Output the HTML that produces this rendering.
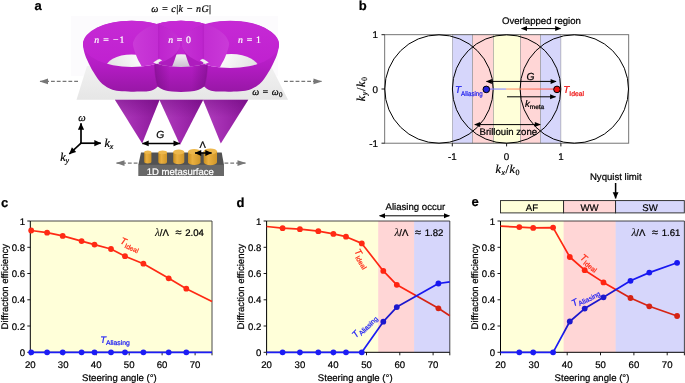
<!DOCTYPE html>
<html><head><meta charset="utf-8"><title>figure</title>
<style>html,body{margin:0;padding:0;background:#fff;overflow:hidden}svg{display:block}text{font-family:"Liberation Sans",sans-serif;fill:#000;stroke:#000;stroke-width:0.22px;text-rendering:geometricPrecision}.m{font-family:"Liberation Serif",serif;font-style:italic}.mr{font-family:"Liberation Serif",serif;font-style:normal}</style></head><body>
<svg width="685" height="383" viewBox="0 0 685 383" style="will-change:opacity;transform:translateZ(0)">
<defs>
<marker id="ah" viewBox="0 0 10 10" refX="9" refY="5" markerWidth="7" markerHeight="6" orient="auto-start-reverse" markerUnits="userSpaceOnUse"><path d="M0,0.8 L10,5 L0,9.2 z" fill="#000"/></marker>
<marker id="ahb" viewBox="0 0 10 10" refX="9.5" refY="5" markerWidth="8" markerHeight="6.6" orient="auto-start-reverse" markerUnits="userSpaceOnUse"><path d="M0,0.6 L10,5 L0,9.4 z" fill="#000"/></marker>
<marker id="aht" viewBox="0 0 10 10" refX="9.5" refY="5" markerWidth="8" markerHeight="6.8" orient="auto-start-reverse" markerUnits="userSpaceOnUse"><path d="M0,0.4 L10,5 L0,9.6 z" fill="#000"/></marker>
<marker id="ag" viewBox="0 0 10 10" refX="9" refY="5" markerWidth="9" markerHeight="7" orient="auto-start-reverse" markerUnits="userSpaceOnUse"><path d="M0,0.5 L10,5 L0,9.5 z" fill="#777"/></marker>
<linearGradient id="gl" x1="0" y1="0" x2="1" y2="0"><stop offset="0" stop-color="#7a7aff"/><stop offset="0.28" stop-color="#8c8cff"/><stop offset="0.29" stop-color="#ffa070"/><stop offset="1" stop-color="#ff5050"/></linearGradient>
<linearGradient id="bowl" x1="0" y1="0" x2="0" y2="1"><stop offset="0" stop-color="#c42fd0"/><stop offset="0.5" stop-color="#b622c4"/><stop offset="1" stop-color="#9a1aa8"/></linearGradient>
<linearGradient id="bowlin" x1="0" y1="0" x2="0" y2="1"><stop offset="0" stop-color="#c630d2"/><stop offset="1" stop-color="#ac20ba"/></linearGradient>
<linearGradient id="cone" x1="0" y1="0" x2="1" y2="0"><stop offset="0" stop-color="#b040bd"/><stop offset="0.45" stop-color="#a22cb0"/><stop offset="1" stop-color="#8a1898"/></linearGradient>
<linearGradient id="coneshade" x1="0" y1="0" x2="0" y2="1"><stop offset="0" stop-color="#600070" stop-opacity="0.35"/><stop offset="0.4" stop-color="#600070" stop-opacity="0"/></linearGradient>
<linearGradient id="plane" x1="0" y1="0" x2="0" y2="1"><stop offset="0" stop-color="#f2f2f2"/><stop offset="1" stop-color="#e6e6e6"/></linearGradient>
<linearGradient id="gold" x1="0" y1="0" x2="1" y2="0"><stop offset="0" stop-color="#c98f20"/><stop offset="0.35" stop-color="#eab040"/><stop offset="1" stop-color="#d09628"/></linearGradient>
</defs>
<text x="34.5" y="9.6" font-size="13" font-weight="bold">a</text>
<text x="358.8" y="9.9" font-size="13" font-weight="bold">b</text>
<text x="1" y="207" font-size="13" font-weight="bold">c</text>
<text x="236.6" y="207" font-size="13" font-weight="bold">d</text>
<text x="471.5" y="206.4" font-size="13" font-weight="bold">e</text>
<g id="pa">
<rect x="71" y="16" width="207" height="60" fill="#fcfbfd"/>
<path d="M87,66 L270,64 L288,99.8 L76.5,99.8 Z" fill="url(#plane)"/>
<path d="M114.9,99.8 L159.6,99.8 L142.2,143.5 Z" fill="url(#cone)"/>
<path d="M114.9,99.8 L159.6,99.8 L142.2,143.5 Z" fill="url(#coneshade)"/>
<path d="M159.4,99.8 L203.2,99.8 L180,145 Z" fill="url(#cone)"/>
<path d="M159.4,99.8 L203.2,99.8 L180,145 Z" fill="url(#coneshade)"/>
<path d="M203,99.8 L248.3,99.8 L220.8,143.5 Z" fill="url(#cone)"/>
<path d="M203,99.8 L248.3,99.8 L220.8,143.5 Z" fill="url(#coneshade)"/>
</g>
<g id="bowls">
<defs>
<linearGradient id="fw" gradientUnits="userSpaceOnUse" x1="0" y1="44" x2="0" y2="92"><stop offset="0" stop-color="#c026d0"/><stop offset="0.45" stop-color="#b41cc4"/><stop offset="1" stop-color="#9817a6"/></linearGradient>
<linearGradient id="inn" gradientUnits="userSpaceOnUse" x1="0" y1="20" x2="0" y2="68"><stop offset="0" stop-color="#c62ad5"/><stop offset="1" stop-color="#bf20cf"/></linearGradient>
<linearGradient id="lensL" gradientUnits="userSpaceOnUse" x1="133" y1="0" x2="159" y2="0"><stop offset="0" stop-color="#ca3ad8"/><stop offset="1" stop-color="#c22cd2"/></linearGradient>
<linearGradient id="lensR" gradientUnits="userSpaceOnUse" x1="159" y1="0" x2="181" y2="0"><stop offset="0" stop-color="#be24ce"/><stop offset="1" stop-color="#c632d5"/></linearGradient>
<linearGradient id="mshade" gradientUnits="userSpaceOnUse" x1="154" y1="0" x2="208" y2="0"><stop offset="0" stop-color="#50005c" stop-opacity="0.35"/><stop offset="0.3" stop-color="#50005c" stop-opacity="0"/><stop offset="0.7" stop-color="#50005c" stop-opacity="0"/><stop offset="1" stop-color="#50005c" stop-opacity="0.35"/></linearGradient>
<linearGradient id="hole" gradientUnits="userSpaceOnUse" x1="108" y1="68" x2="135" y2="52"><stop offset="0" stop-color="#e2e2e2"/><stop offset="1" stop-color="#fafafa"/></linearGradient>
<linearGradient id="hole2" gradientUnits="userSpaceOnUse" x1="0" y1="54" x2="0" y2="67"><stop offset="0" stop-color="#f2f0f3"/><stop offset="1" stop-color="#cdc2d2"/></linearGradient>
<path id="LH" d="M83.0,45.3 C82.8,42.7 83.4,41.6 84.2,39.8 C85.0,38.0 86.3,36.3 87.8,34.6 C89.4,33.0 91.4,31.4 93.6,30.0 C95.9,28.5 98.5,27.2 101.3,26.1 C104.2,24.9 107.3,23.9 110.6,23.1 C113.8,22.3 117.3,21.7 120.9,21.3 C124.4,20.9 128.1,20.7 131.7,20.7 C135.3,20.7 139.0,20.9 142.5,21.3 C146.1,21.7 149.6,22.3 152.8,23.1 C156.1,23.9 159.2,24.9 162.1,26.1 C164.9,27.2 167.5,28.5 169.8,30.0 C172.0,31.4 174.0,33.0 175.6,34.6 C177.1,36.3 178.4,38.0 179.2,39.8 C180.0,41.6 180.9,42.8 180.4,45.3 C179.9,47.8 177.7,51.5 176.3,55.0 C175.0,58.5 174.0,62.3 172.3,66.0 C170.6,69.7 167.8,74.2 166.0,77.0 C164.2,79.8 162.8,81.0 161.5,82.5 C160.2,84.0 159.3,85.1 158.0,86.3 C156.7,87.5 155.2,89.0 153.5,89.8 C151.8,90.6 150.2,90.9 148.0,91.2 C145.8,91.5 142.8,91.5 140.0,91.6 C137.2,91.7 134.5,91.8 131.0,91.7 C127.5,91.6 122.4,91.5 119.0,91.0 C115.6,90.5 113.1,89.9 110.6,88.9 C108.1,87.9 105.8,86.5 103.8,85.0 C101.8,83.5 100.4,82.0 98.7,79.9 C97.0,77.8 95.1,74.8 93.6,72.3 C92.0,69.8 90.8,67.5 89.4,64.7 C88.0,61.9 86.3,58.5 85.2,55.3 C84.1,52.1 83.2,47.9 83.0,45.3 Z"/>
<path id="MH" d="M133.0,45.3 C132.6,42.5 133.4,41.6 134.2,39.8 C135.0,38.0 136.2,36.3 137.8,34.6 C139.3,33.0 141.3,31.4 143.5,30.0 C145.7,28.5 148.3,27.2 151.1,26.1 C153.9,24.9 157.0,23.9 160.2,23.1 C163.4,22.3 166.8,21.7 170.3,21.3 C173.8,20.9 177.4,20.7 181.0,20.7 C184.6,20.7 188.2,20.9 191.7,21.3 C195.2,21.7 198.6,22.3 201.8,23.1 C205.0,23.9 208.1,24.9 210.9,26.1 C213.7,27.2 216.3,28.5 218.5,30.0 C220.7,31.4 222.7,33.0 224.2,34.6 C225.8,36.3 227.0,38.0 227.8,39.8 C228.6,41.6 229.4,42.5 229.0,45.3 C228.6,48.1 226.6,53.5 225.3,56.8 C224.0,60.1 222.8,61.8 221.1,65.0 C219.4,68.2 216.8,73.1 215.0,76.0 C213.2,78.9 211.8,80.8 210.0,82.5 C208.2,84.2 206.2,85.2 204.2,86.4 C202.2,87.7 200.4,89.1 198.0,90.0 C195.6,90.9 192.8,91.3 190.0,91.6 C187.2,91.9 184.0,91.9 181.0,91.9 C178.0,91.9 174.8,91.9 172.0,91.6 C169.2,91.3 166.4,90.9 164.0,90.0 C161.6,89.1 159.8,87.7 157.8,86.4 C155.8,85.2 153.8,84.2 152.0,82.5 C150.2,80.8 148.8,78.9 147.0,76.0 C145.2,73.1 142.6,68.2 140.9,65.0 C139.2,61.8 138.0,60.1 136.7,56.8 C135.4,53.5 133.4,48.1 133.0,45.3 Z"/>
<ellipse id="LEe" cx="131.7" cy="43.8" rx="48.7" ry="23.1"/>
<ellipse id="MEe" cx="181" cy="43.8" rx="48" ry="23.1"/>
<clipPath id="cLE"><use href="#LEe"/></clipPath>
<ellipse id="REe" cx="131.7" cy="44.6" rx="48.7" ry="23.5"/>
<clipPath id="cRE"><use href="#REe"/></clipPath>
<clipPath id="cME"><use href="#MEe"/></clipPath>
<clipPath id="cLH"><use href="#LH"/></clipPath>
<clipPath id="cMH"><use href="#MH"/></clipPath>
<clipPath id="cMid"><path d="M154.6,10 L154.6,64.5 Q155.2,78 157.8,86.5 L157.8,96 L204.2,96 L204.2,86.5 Q206.8,78 207.4,64.5 L207.4,10 Z"/></clipPath>
<clipPath id="cLeftHalf"><rect x="0" y="0" width="158.8" height="120"/></clipPath>
<clipPath id="cRightOf"><rect x="158.8" y="0" width="60" height="120"/></clipPath>
</defs>
<use href="#LH" fill="url(#fw)"/>
<use href="#LH" fill="url(#fw)" transform="translate(362,0) scale(-1,1)"/>
<g clip-path="url(#cMid)">
<use href="#MH" fill="url(#fw)"/>
<g clip-path="url(#cMH)"><rect x="150" y="62" width="62" height="32" fill="url(#mshade)"/></g>
</g>
<g >
<use href="#LEe" fill="url(#inn)"/>
<g clip-path="url(#cLE)"><ellipse cx="131.5" cy="69.4" rx="26.5" ry="15" fill="url(#hole)"/>
<g clip-path="url(#cLeftHalf)"><use href="#MH" fill="url(#lensL)"/></g>
</g>
</g>
<g transform="translate(362,0) scale(-1,1)">
<use href="#REe" fill="url(#inn)"/>
<g clip-path="url(#cRE)"><ellipse cx="130.6" cy="70.4" rx="28.2" ry="16.4" fill="url(#hole)"/>
<g clip-path="url(#cLeftHalf)"><use href="#MH" fill="url(#lensL)"/></g>
</g>
</g>
<g clip-path="url(#cME)">
<g clip-path="url(#cRightOf)"><rect x="158.8" y="0" width="44.4" height="120" fill="url(#inn)"/></g>
<rect x="158.8" y="18" width="44.4" height="52" fill="url(#inn)"/>
<ellipse cx="181" cy="69.2" rx="27" ry="15" fill="url(#hole2)"/>
<g ><g clip-path="url(#cRightOf)">
<use href="#LH" fill="#ae1cbe"/>
<use href="#LEe" fill="url(#lensR)"/>
</g></g>
<g transform="translate(362,0) scale(-1,1)"><g clip-path="url(#cRightOf)">
<use href="#LH" fill="#ae1cbe"/>
<use href="#LEe" fill="url(#lensR)"/>
</g></g>
</g>
<path d="M153.2,62.4 L159,58.8 L162.2,60.3 L156.4,63.8 Z" fill="#f2f2f2"/>
<path d="M208.8,62.4 L203,58.8 L199.8,60.3 L205.6,63.8 Z" fill="#f2f2f2"/>
<path d="M158.8,24 L158.8,60" stroke="#a018b0" stroke-width="0.8" opacity="0.35" fill="none"/>
<path d="M203.2,24 L203.2,60" stroke="#a018b0" stroke-width="0.8" opacity="0.35" fill="none"/>
<path d="M154.6,64.5 Q155.2,78 157.8,86.5" stroke="#8a1496" stroke-width="1.2" opacity="0.5" fill="none"/>
<path d="M207.4,64.5 Q206.8,78 204.2,86.5" stroke="#8a1496" stroke-width="1.2" opacity="0.5" fill="none"/>
</g>
<text x="94.3" y="43.4" font-size="9.8" textLength="30" style="fill:#fff;stroke:#fff" class="mr"><tspan class="m">n</tspan> = −1</text>
<text x="168.2" y="43.2" font-size="9.8" textLength="22.8" style="fill:#fff;stroke:#fff" class="mr"><tspan class="m">n</tspan> = 0</text>
<text x="238" y="43.2" font-size="9.8" textLength="22.8" style="fill:#fff;stroke:#fff" class="mr"><tspan class="m">n</tspan> = 1</text>
<text x="151.2" y="12.4" font-size="10" textLength="59.8" class="m">ω = c<tspan class="mr">|</tspan>k − nG<tspan class="mr">|</tspan></text>
<text x="252.2" y="95.2" font-size="9.8" textLength="30.2" class="m">ω = ω<tspan class="mr" font-size="7" dy="1.8">0</tspan></text>
<g id="meta">
<path d="M141,152.5 L221.7,152.5 L224,165 L138.3,165 Z" fill="#525252"/>
<rect x="138.3" y="164.8" width="85.7" height="11.2" fill="#686868"/>
<text x="180.3" y="175" font-size="9.5" text-anchor="middle" style="fill:#fff;stroke:#fff">1D metasurface</text>
<path d="M144.2,152.184 L144.2,161.816 A3.6000000000000085,1.5840000000000038 0 0 0 151.4,161.816 L151.4,152.184 Z" fill="url(#gold)"/>
<ellipse cx="147.8" cy="152.184" rx="3.6000000000000085" ry="1.5840000000000038" fill="#edb84c"/>
<path d="M158.3,152.314 L158.3,161.88600000000002 A4.349999999999994,1.9139999999999975 0 0 0 167,161.88600000000002 L167,152.314 Z" fill="url(#gold)"/>
<ellipse cx="162.65" cy="152.314" rx="4.349999999999994" ry="1.9139999999999975" fill="#edb84c"/>
<path d="M173.2,152.042 L173.2,161.75799999999998 A5.550000000000011,2.442000000000005 0 0 0 184.3,161.75799999999998 L184.3,152.042 Z" fill="url(#gold)"/>
<ellipse cx="178.75" cy="152.042" rx="5.550000000000011" ry="2.442000000000005" fill="#edb84c"/>
<path d="M188,151.75 L188,162.25 A6.25,2.75 0 0 0 200.5,162.25 L200.5,151.75 Z" fill="url(#gold)"/>
<ellipse cx="194.25" cy="151.75" rx="6.25" ry="2.75" fill="#edb84c"/>
<path d="M203.7,151.32600000000002 L203.7,162.27399999999997 A6.650000000000006,2.9260000000000024 0 0 0 217,162.27399999999997 L217,151.32600000000002 Z" fill="url(#gold)"/>
<ellipse cx="210.35" cy="151.32600000000002" rx="6.650000000000006" ry="2.9260000000000024" fill="#edb84c"/>
</g>
<path d="M142.4,143.4 L179.8,143.4" stroke="#000" stroke-width="1.5" fill="none" marker-start="url(#ahb)" marker-end="url(#ahb)"/>
<path d="M195,153 L211.6,153" stroke="#000" stroke-width="1.5" fill="none" marker-start="url(#ahb)" marker-end="url(#ahb)"/>
<text x="160.2" y="137.9" font-size="10.3" font-style="italic" text-anchor="middle">G</text>
<text x="202.6" y="148" font-size="9.5" text-anchor="middle">Λ</text>
<path d="M78,81.4 L40,81.4" stroke="#777" stroke-width="1.3" stroke-dasharray="3.8,2" fill="none"/>
<path d="M39.5,81.4 L48,78.60000000000001 L48,84.2 Z" fill="#777"/>
<path d="M284,81.4 L321.5,81.4" stroke="#777" stroke-width="1.3" stroke-dasharray="3.8,2" fill="none"/>
<path d="M322.0,81.4 L313.5,78.60000000000001 L313.5,84.2 Z" fill="#777"/>
<path d="M137.5,163.1 L116.5,163.1" stroke="#777" stroke-width="1.3" stroke-dasharray="3.8,2" fill="none"/>
<path d="M116.0,163.1 L124.5,160.29999999999998 L124.5,165.9 Z" fill="#777"/>
<path d="M224.5,163.1 L245.5,163.1" stroke="#777" stroke-width="1.3" stroke-dasharray="3.8,2" fill="none"/>
<path d="M246.0,163.1 L237.5,160.29999999999998 L237.5,165.9 Z" fill="#777"/>
<path d="M81,143.2 L81,123.3" stroke="#000" stroke-width="1.7" fill="none" marker-end="url(#aht)"/>
<path d="M80.2,143.2 L100.8,143.2" stroke="#000" stroke-width="1.7" fill="none" marker-end="url(#aht)"/>
<path d="M81.3,142.9 L69.3,154" stroke="#000" stroke-width="1.7" fill="none" marker-end="url(#aht)"/>
<text x="78.3" y="121" font-size="10.5" class="m">ω</text>
<text x="104.5" y="146.8" font-size="12" class="m">k<tspan font-size="8" dy="2">x</tspan></text>
<text x="60.2" y="160.6" font-size="12" class="m">k<tspan font-size="8" dy="2">y</tspan></text>
<g id="pb">
<rect x="452.3" y="34.7" width="20.4" height="108.5" fill="#d6d6fb" stroke="#8a8a8a" stroke-width="0.5"/>
<rect x="472.7" y="34.7" width="20.6" height="108.5" fill="#ffd6d6" stroke="#8a8a8a" stroke-width="0.5"/>
<rect x="493.3" y="34.7" width="27.1" height="108.5" fill="#ffffd9" stroke="#8a8a8a" stroke-width="0.5"/>
<rect x="520.4" y="34.7" width="20.1" height="108.5" fill="#ffd6d6" stroke="#8a8a8a" stroke-width="0.5"/>
<rect x="540.5" y="34.7" width="20.4" height="108.5" fill="#d6d6fb" stroke="#8a8a8a" stroke-width="0.5"/>
<rect x="384.7" y="34.7" width="244.0" height="108.5" fill="none" stroke="#666" stroke-width="0.9"/>
<circle cx="439.0" cy="89" r="54.2" fill="none" stroke="#000" stroke-width="1"/>
<circle cx="506.6" cy="89" r="54.2" fill="none" stroke="#000" stroke-width="1"/>
<circle cx="574.3" cy="89" r="54.2" fill="none" stroke="#000" stroke-width="1"/>
<path d="M384.7,34.7 h-3.2" stroke="#000" stroke-width="0.9"/>
<text x="378" y="38.2" font-size="9.8" text-anchor="end">1</text>
<path d="M384.7,89 h-3.2" stroke="#000" stroke-width="0.9"/>
<text x="378" y="92.5" font-size="9.8" text-anchor="end">0</text>
<path d="M384.7,143.2 h-3.2" stroke="#000" stroke-width="0.9"/>
<text x="378" y="146.7" font-size="9.8" text-anchor="end">-1</text>
<path d="M452.3,143.2 v3.2" stroke="#000" stroke-width="0.9"/>
<text x="452.3" y="159.5" font-size="9.8" text-anchor="middle">-1</text>
<path d="M506.6,143.2 v3.2" stroke="#000" stroke-width="0.9"/>
<text x="506.6" y="159.5" font-size="9.8" text-anchor="middle">0</text>
<path d="M560.9,143.2 v3.2" stroke="#000" stroke-width="0.9"/>
<text x="560.9" y="159.5" font-size="9.8" text-anchor="middle">1</text>
<rect x="486" y="88.5" width="71" height="1.1" fill="url(#gl)"/>
<circle cx="486.3" cy="89.4" r="3.3" fill="#2222dd" stroke="#000" stroke-width="1"/>
<circle cx="557" cy="89.4" r="3.3" fill="#ee1111" stroke="#000" stroke-width="1"/>
<path d="M486.5,81.4 L556,81.4" stroke="#000" stroke-width="1.0" fill="none" marker-start="url(#ah)" marker-end="url(#ah)"/>
<path d="M507,96.8 L555.5,96.8" stroke="#000" stroke-width="1.0" fill="none" marker-end="url(#ah)"/>
<path d="M474.8,124.6 L540.2,124.6" stroke="#000" stroke-width="1.0" fill="none" marker-start="url(#ah)" marker-end="url(#ah)"/>
<path d="M521.6,28.6 L560.6,28.6" stroke="#000" stroke-width="1.0" fill="none" marker-start="url(#ah)" marker-end="url(#ah)"/>
<text x="530.6" y="80.4" font-size="10.3" font-style="italic" text-anchor="middle">G</text>
<text x="525" y="107" font-size="9.5"><tspan font-style="italic">k</tspan><tspan font-size="6.5" dy="2">meta</tspan></text>
<text x="508.3" y="135.4" font-size="9.6" text-anchor="middle">Brillouin zone</text>
<text x="541.4" y="23.5" font-size="9.6" text-anchor="middle">Overlapped region</text>
<text x="455" y="93.2" font-size="10" style="fill:#2222ee;stroke:#2222ee"><tspan font-style="italic">T</tspan><tspan font-size="6.8" dy="2.3" textLength="21.6" lengthAdjust="spacingAndGlyphs">Aliasing</tspan></text>
<text x="563.2" y="93.2" font-size="10" style="fill:#ee1111;stroke:#ee1111"><tspan font-style="italic">T</tspan><tspan font-size="6.8" dy="2.3">Ideal</tspan></text>
<text x="495.4" y="172.6" font-size="12" textLength="24.2" class="m">k<tspan font-size="8" dy="2">x</tspan><tspan class="mr" dy="-2">/</tspan>k<tspan class="mr" font-size="8" dy="2">0</tspan></text>
<text transform="translate(365.3,101.2) rotate(-90)" font-size="12" textLength="24.2" class="m">k<tspan font-size="8" dy="2">y</tspan><tspan class="mr" dy="-2">/</tspan>k<tspan class="mr" font-size="8" dy="2">0</tspan></text>
</g>
<g id="pc">
<rect x="30.3" y="221.0" width="181.7" height="131.3" fill="#ffffd9"/>
<path d="M30.3,221.0 H212.0 V352.3" stroke="#333" stroke-width="0.9" fill="none"/>
<path d="M30.3,221.0 V352.3 H212.0" stroke="#000" stroke-width="1" fill="none"/>
<path d="M30.3,352.3 h-3" stroke="#000" stroke-width="0.9"/>
<text x="25.0" y="355.8" font-size="9.6" text-anchor="end">0</text>
<path d="M30.3,326.0 h-3" stroke="#000" stroke-width="0.9"/>
<text x="25.0" y="329.5" font-size="9.6" text-anchor="end">0.2</text>
<path d="M30.3,299.8 h-3" stroke="#000" stroke-width="0.9"/>
<text x="25.0" y="303.3" font-size="9.6" text-anchor="end">0.4</text>
<path d="M30.3,273.5 h-3" stroke="#000" stroke-width="0.9"/>
<text x="25.0" y="277.0" font-size="9.6" text-anchor="end">0.6</text>
<path d="M30.3,247.3 h-3" stroke="#000" stroke-width="0.9"/>
<text x="25.0" y="250.8" font-size="9.6" text-anchor="end">0.8</text>
<path d="M30.3,221.0 h-3" stroke="#000" stroke-width="0.9"/>
<text x="25.0" y="224.5" font-size="9.6" text-anchor="end">1</text>
<path d="M30.3,352.3 v3" stroke="#000" stroke-width="0.9"/>
<text x="30.3" y="368.3" font-size="9.6" text-anchor="middle">20</text>
<path d="M63.2,352.3 v3" stroke="#000" stroke-width="0.9"/>
<text x="63.2" y="368.3" font-size="9.6" text-anchor="middle">30</text>
<path d="M96.2,352.3 v3" stroke="#000" stroke-width="0.9"/>
<text x="96.2" y="368.3" font-size="9.6" text-anchor="middle">40</text>
<path d="M129.2,352.3 v3" stroke="#000" stroke-width="0.9"/>
<text x="129.2" y="368.3" font-size="9.6" text-anchor="middle">50</text>
<path d="M162.1,352.3 v3" stroke="#000" stroke-width="0.9"/>
<text x="162.1" y="368.3" font-size="9.6" text-anchor="middle">60</text>
<path d="M195.1,352.3 v3" stroke="#000" stroke-width="0.9"/>
<text x="195.1" y="368.3" font-size="9.6" text-anchor="middle">70</text>
<path d="M212.0,352.3 v3" stroke="#000" stroke-width="0.9"/>
<polyline points="31.2,230.5 47.1,232.7 62.7,235.9 81.6,241.1 94.5,244.6 111,249 125,256.2 143.4,263.7 168.7,278.3 186.3,288.7 212,301.5" fill="none" stroke="#ff2a14" stroke-width="1.7" stroke-linejoin="round"/>
<polyline points="30.3,352.3 31.2,352.3 47.1,352.3 62.7,352.3 81.6,352.3 94.5,352.3 111,352.3 125,352.3 143.4,352.3 168.7,352.3 186.3,352.3 212,352.3" fill="none" stroke="#1c1cf5" stroke-width="1.7" stroke-linejoin="round"/>
<circle cx="31.2" cy="230.5" r="2.9" fill="#ff2a14"/>
<circle cx="47.1" cy="232.7" r="2.9" fill="#ff2a14"/>
<circle cx="62.7" cy="235.9" r="2.9" fill="#ff2a14"/>
<circle cx="81.6" cy="241.1" r="2.9" fill="#ff2a14"/>
<circle cx="94.5" cy="244.6" r="2.9" fill="#ff2a14"/>
<circle cx="111" cy="249" r="2.9" fill="#ff2a14"/>
<circle cx="125" cy="256.2" r="2.9" fill="#ff2a14"/>
<circle cx="143.4" cy="263.7" r="2.9" fill="#ff2a14"/>
<circle cx="168.7" cy="278.3" r="2.9" fill="#ff2a14"/>
<circle cx="186.3" cy="288.7" r="2.9" fill="#ff2a14"/>
<circle cx="31.2" cy="352.3" r="2.9" fill="#1c1cf5"/>
<circle cx="47.1" cy="352.3" r="2.9" fill="#1c1cf5"/>
<circle cx="62.7" cy="352.3" r="2.9" fill="#1c1cf5"/>
<circle cx="81.6" cy="352.3" r="2.9" fill="#1c1cf5"/>
<circle cx="94.5" cy="352.3" r="2.9" fill="#1c1cf5"/>
<circle cx="111" cy="352.3" r="2.9" fill="#1c1cf5"/>
<circle cx="125" cy="352.3" r="2.9" fill="#1c1cf5"/>
<circle cx="143.4" cy="352.3" r="2.9" fill="#1c1cf5"/>
<circle cx="168.7" cy="352.3" r="2.9" fill="#1c1cf5"/>
<circle cx="186.3" cy="352.3" r="2.9" fill="#1c1cf5"/>
<text x="119.4" y="380.6" font-size="9.6" text-anchor="middle">Steering angle (°)</text>
<text transform="translate(7.5,286.65) rotate(-90)" font-size="9.6" text-anchor="middle">Diffraction efficiency</text>
<text y="235.6" font-size="9.6"><tspan x="155" class="m" font-size="11" style="stroke-width:0.05px">λ</tspan>/Λ<tspan x="175.4" font-size="11">≈</tspan><tspan x="185.2">2.04</tspan></text>
<text transform="translate(119.5,243) rotate(24)" font-size="9.5" style="fill:#ff2a14;stroke:#ff2a14"><tspan font-style="italic">T</tspan><tspan font-size="6.8" dy="2.2">Ideal</tspan></text>
<text transform="translate(100.2,342.6) rotate(0)" font-size="9.5" style="fill:#1c1cf5;stroke:#1c1cf5"><tspan font-style="italic">T</tspan><tspan font-size="6.8" dy="2.2">Aliasing</tspan></text>
</g>
<g id="pd">
<rect x="266.6" y="221.0" width="111.6" height="131.3" fill="#ffffd9"/>
<path d="M266.6,221.0 H449.8 V352.3" stroke="#333" stroke-width="0.9" fill="none"/>
<path d="M266.6,221.0 V352.3 H449.8" stroke="#000" stroke-width="1" fill="none"/>
<path d="M266.6,352.3 h-3" stroke="#000" stroke-width="0.9"/>
<text x="261.3" y="355.8" font-size="9.6" text-anchor="end">0</text>
<path d="M266.6,326.0 h-3" stroke="#000" stroke-width="0.9"/>
<text x="261.3" y="329.5" font-size="9.6" text-anchor="end">0.2</text>
<path d="M266.6,299.8 h-3" stroke="#000" stroke-width="0.9"/>
<text x="261.3" y="303.3" font-size="9.6" text-anchor="end">0.4</text>
<path d="M266.6,273.5 h-3" stroke="#000" stroke-width="0.9"/>
<text x="261.3" y="277.0" font-size="9.6" text-anchor="end">0.6</text>
<path d="M266.6,247.3 h-3" stroke="#000" stroke-width="0.9"/>
<text x="261.3" y="250.8" font-size="9.6" text-anchor="end">0.8</text>
<path d="M266.6,221.0 h-3" stroke="#000" stroke-width="0.9"/>
<text x="261.3" y="224.5" font-size="9.6" text-anchor="end">1</text>
<path d="M266.6,352.3 v3" stroke="#000" stroke-width="0.9"/>
<text x="266.6" y="368.3" font-size="9.6" text-anchor="middle">20</text>
<path d="M299.9,352.3 v3" stroke="#000" stroke-width="0.9"/>
<text x="299.9" y="368.3" font-size="9.6" text-anchor="middle">30</text>
<path d="M333.2,352.3 v3" stroke="#000" stroke-width="0.9"/>
<text x="333.2" y="368.3" font-size="9.6" text-anchor="middle">40</text>
<path d="M366.5,352.3 v3" stroke="#000" stroke-width="0.9"/>
<text x="366.5" y="368.3" font-size="9.6" text-anchor="middle">50</text>
<path d="M399.8,352.3 v3" stroke="#000" stroke-width="0.9"/>
<text x="399.8" y="368.3" font-size="9.6" text-anchor="middle">60</text>
<path d="M433.1,352.3 v3" stroke="#000" stroke-width="0.9"/>
<text x="433.1" y="368.3" font-size="9.6" text-anchor="middle">70</text>
<path d="M449.8,352.3 v3" stroke="#000" stroke-width="0.9"/>
<polyline points="266.6,226.5 282.6,228.2 299.9,229.2 318.3,231.2 333.4,233.9 346,236.7 361.8,243.4 383.3,270.9 396.8,284.8 438.4,308.3 449.8,315.8" fill="none" stroke="#ff2a14" stroke-width="1.7" stroke-linejoin="round"/>
<polyline points="266.6,352.3 282.6,352.3 299.9,352.3 318.3,352.3 333.4,352.3 346,352.3 361.8,352.3 383.3,321.7 396.8,307.1 438.4,283.5 449.8,281.8" fill="none" stroke="#1c1cf5" stroke-width="1.7" stroke-linejoin="round"/>
<circle cx="282.6" cy="228.2" r="2.9" fill="#ff2a14"/>
<circle cx="299.9" cy="229.2" r="2.9" fill="#ff2a14"/>
<circle cx="318.3" cy="231.2" r="2.9" fill="#ff2a14"/>
<circle cx="333.4" cy="233.9" r="2.9" fill="#ff2a14"/>
<circle cx="346" cy="236.7" r="2.9" fill="#ff2a14"/>
<circle cx="361.8" cy="243.4" r="2.9" fill="#ff2a14"/>
<circle cx="383.3" cy="270.9" r="2.9" fill="#ff2a14"/>
<circle cx="396.8" cy="284.8" r="2.9" fill="#ff2a14"/>
<circle cx="438.4" cy="308.3" r="2.9" fill="#ff2a14"/>
<circle cx="282.6" cy="352.3" r="2.9" fill="#1c1cf5"/>
<circle cx="299.9" cy="352.3" r="2.9" fill="#1c1cf5"/>
<circle cx="318.3" cy="352.3" r="2.9" fill="#1c1cf5"/>
<circle cx="333.4" cy="352.3" r="2.9" fill="#1c1cf5"/>
<circle cx="346" cy="352.3" r="2.9" fill="#1c1cf5"/>
<circle cx="361.8" cy="352.3" r="2.9" fill="#1c1cf5"/>
<circle cx="383.3" cy="321.7" r="2.9" fill="#1c1cf5"/>
<circle cx="396.8" cy="307.1" r="2.9" fill="#1c1cf5"/>
<circle cx="438.4" cy="283.5" r="2.9" fill="#1c1cf5"/>
<rect x="378.2" y="221.0" width="35.9" height="131.3" fill="#ffd6d6" style="mix-blend-mode:multiply"/>
<rect x="414.1" y="221.0" width="35.7" height="131.3" fill="#d6d6fb" style="mix-blend-mode:multiply"/>
<text x="355.2" y="380.6" font-size="9.6" text-anchor="middle">Steering angle (°)</text>
<text transform="translate(243.8,286.65) rotate(-90)" font-size="9.6" text-anchor="middle">Diffraction efficiency</text>
<text y="235.6" font-size="9.6"><tspan x="394.5" class="m" font-size="11" style="stroke-width:0.05px">λ</tspan>/Λ<tspan x="414.9" font-size="11">≈</tspan><tspan x="424.7">1.82</tspan></text>
<text transform="translate(354,251.3) rotate(59)" font-size="9.5" style="fill:#ff2a14;stroke:#ff2a14"><tspan font-style="italic">T</tspan><tspan font-size="6.8" dy="2.2">Ideal</tspan></text>
<text transform="translate(355.8,338.6) rotate(-45)" font-size="9.5" style="fill:#1c1cf5;stroke:#1c1cf5"><tspan font-style="italic">T</tspan><tspan font-size="6.8" dy="2.2">Aliasing</tspan></text>
<text x="415.4" y="210.3" font-size="9.6" text-anchor="middle">Aliasing occur</text>
<path d="M379.6,215.8 L449.4,215.8" stroke="#000" stroke-width="1.0" fill="none" marker-start="url(#ah)" marker-end="url(#ah)"/>
</g>
<g id="pe">
<rect x="500.5" y="221.0" width="63.1" height="131.3" fill="#ffffd9"/>
<path d="M500.5,221.0 H684.4 V352.3" stroke="#333" stroke-width="0.9" fill="none"/>
<path d="M500.5,221.0 V352.3 H684.4" stroke="#000" stroke-width="1" fill="none"/>
<path d="M500.5,352.3 h-3" stroke="#000" stroke-width="0.9"/>
<text x="495.2" y="355.8" font-size="9.6" text-anchor="end">0</text>
<path d="M500.5,326.0 h-3" stroke="#000" stroke-width="0.9"/>
<text x="495.2" y="329.5" font-size="9.6" text-anchor="end">0.2</text>
<path d="M500.5,299.8 h-3" stroke="#000" stroke-width="0.9"/>
<text x="495.2" y="303.3" font-size="9.6" text-anchor="end">0.4</text>
<path d="M500.5,273.5 h-3" stroke="#000" stroke-width="0.9"/>
<text x="495.2" y="277.0" font-size="9.6" text-anchor="end">0.6</text>
<path d="M500.5,247.3 h-3" stroke="#000" stroke-width="0.9"/>
<text x="495.2" y="250.8" font-size="9.6" text-anchor="end">0.8</text>
<path d="M500.5,221.0 h-3" stroke="#000" stroke-width="0.9"/>
<text x="495.2" y="224.5" font-size="9.6" text-anchor="end">1</text>
<path d="M500.5,352.3 v3" stroke="#000" stroke-width="0.9"/>
<text x="500.5" y="368.3" font-size="9.6" text-anchor="middle">20</text>
<path d="M533.9,352.3 v3" stroke="#000" stroke-width="0.9"/>
<text x="533.9" y="368.3" font-size="9.6" text-anchor="middle">30</text>
<path d="M567.2,352.3 v3" stroke="#000" stroke-width="0.9"/>
<text x="567.2" y="368.3" font-size="9.6" text-anchor="middle">40</text>
<path d="M600.5,352.3 v3" stroke="#000" stroke-width="0.9"/>
<text x="600.5" y="368.3" font-size="9.6" text-anchor="middle">50</text>
<path d="M633.9,352.3 v3" stroke="#000" stroke-width="0.9"/>
<text x="633.9" y="368.3" font-size="9.6" text-anchor="middle">60</text>
<path d="M667.2,352.3 v3" stroke="#000" stroke-width="0.9"/>
<text x="667.2" y="368.3" font-size="9.6" text-anchor="middle">70</text>
<path d="M684.4,352.3 v3" stroke="#000" stroke-width="0.9"/>
<polyline points="500.5,226.2 519.3,227.1 533.2,227.9 553.1,227.6 569.8,257 584.7,270.2 603.5,282.4 630.5,298 649.3,306.3 677.1,316" fill="none" stroke="#ff2a14" stroke-width="1.7" stroke-linejoin="round"/>
<polyline points="500.5,352.3 519.3,352.3 533.2,352.3 553.1,352.3 569.8,321.5 584.7,308.6 603.5,297.3 630.5,280.8 649.3,272.6 677.1,262.8" fill="none" stroke="#1c1cf5" stroke-width="1.7" stroke-linejoin="round"/>
<circle cx="519.3" cy="227.1" r="2.9" fill="#ff2a14"/>
<circle cx="533.2" cy="227.9" r="2.9" fill="#ff2a14"/>
<circle cx="553.1" cy="227.6" r="2.9" fill="#ff2a14"/>
<circle cx="569.8" cy="257" r="2.9" fill="#ff2a14"/>
<circle cx="584.7" cy="270.2" r="2.9" fill="#ff2a14"/>
<circle cx="603.5" cy="282.4" r="2.9" fill="#ff2a14"/>
<circle cx="630.5" cy="298" r="2.9" fill="#ff2a14"/>
<circle cx="649.3" cy="306.3" r="2.9" fill="#ff2a14"/>
<circle cx="677.1" cy="316" r="2.9" fill="#ff2a14"/>
<circle cx="519.3" cy="352.3" r="2.9" fill="#1c1cf5"/>
<circle cx="533.2" cy="352.3" r="2.9" fill="#1c1cf5"/>
<circle cx="553.1" cy="352.3" r="2.9" fill="#1c1cf5"/>
<circle cx="569.8" cy="321.5" r="2.9" fill="#1c1cf5"/>
<circle cx="584.7" cy="308.6" r="2.9" fill="#1c1cf5"/>
<circle cx="603.5" cy="297.3" r="2.9" fill="#1c1cf5"/>
<circle cx="630.5" cy="280.8" r="2.9" fill="#1c1cf5"/>
<circle cx="649.3" cy="272.6" r="2.9" fill="#1c1cf5"/>
<circle cx="677.1" cy="262.8" r="2.9" fill="#1c1cf5"/>
<rect x="563.6" y="221.0" width="52.0" height="131.3" fill="#ffd6d6" style="mix-blend-mode:multiply"/>
<rect x="615.6" y="221.0" width="68.8" height="131.3" fill="#d6d6fb" style="mix-blend-mode:multiply"/>
<text x="592.0" y="380.6" font-size="9.6" text-anchor="middle">Steering angle (°)</text>
<text transform="translate(477.7,286.65) rotate(-90)" font-size="9.6" text-anchor="middle">Diffraction efficiency</text>
<text y="235.6" font-size="9.6"><tspan x="631.5" class="m" font-size="11" style="stroke-width:0.05px">λ</tspan>/Λ<tspan x="651.9" font-size="11">≈</tspan><tspan x="661.7">1.61</tspan></text>
<text transform="translate(579.5,258.5) rotate(38)" font-size="9.5" style="fill:#ff2a14;stroke:#ff2a14"><tspan font-style="italic">T</tspan><tspan font-size="6.8" dy="2.2">Ideal</tspan></text>
<text transform="translate(573.6,306.8) rotate(-27)" font-size="9.5" style="fill:#1c1cf5;stroke:#1c1cf5"><tspan font-style="italic">T</tspan><tspan font-size="6.8" dy="2.2">Aliasing</tspan></text>
<rect x="500.5" y="200.6" width="63.1" height="12.3" fill="#ffffd9" stroke="#222" stroke-width="0.9"/>
<text x="532.0" y="211" font-size="9.6" text-anchor="middle">AF</text>
<rect x="563.6" y="200.6" width="52.0" height="12.3" fill="#ffd6d6" stroke="#222" stroke-width="0.9"/>
<text x="589.6" y="211" font-size="9.6" text-anchor="middle">WW</text>
<rect x="615.6" y="200.6" width="68.7" height="12.3" fill="#d6d6fb" stroke="#222" stroke-width="0.9"/>
<text x="650.0" y="211" font-size="9.6" text-anchor="middle">SW</text>
<text x="615.8" y="180.4" font-size="9.6" text-anchor="middle">Nyquist limit</text>
<path d="M615.6,183 L615.6,198.4" stroke="#000" stroke-width="1.5" fill="none" marker-end="url(#ahb)"/>
</g>
</svg></body></html>
